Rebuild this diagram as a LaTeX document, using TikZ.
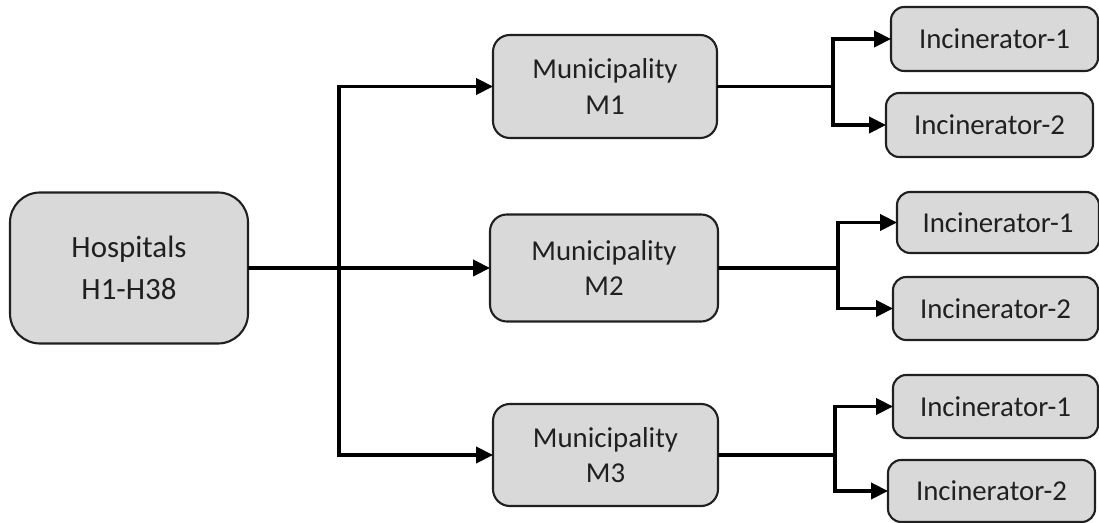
\documentclass[tikz,border=0pt]{standalone}
\usepackage{fontspec}
\setmainfont{Carlito}
\usepackage{tikz}
\usetikzlibrary{arrows.meta,positioning}
\definecolor{boxfill}{HTML}{D9D9D9}
\definecolor{boxline}{HTML}{202020}
\tikzset{
    unit/.style={draw=boxline, fill=boxfill, line width=1.5pt, align=center,
    text=boxline, inner sep=2pt, outer sep=0pt},
    source/.style={unit, rounded corners=0.75cm, font=\fontsize{22}{30}\selectfont},
    muni/.style={unit, rounded corners=0.42cm, font=\fontsize{20.5}{25}\selectfont},
    plant/.style={unit, rounded corners=0.33cm, font=\fontsize{20.5}{25}\selectfont},
    wire/.style={line width=2.5pt, black},
    link/.style={wire, -{Triangle[length=0.42cm, width=0.4cm]}},
}

\begin{document}
\begin{tikzpicture}
            \useasboundingbox (0,0) rectangle (27.475,13.075);
            % --- source ---
            \node[source, minimum width=5.95cm, minimum height=3.775cm] (hosp) at (3.225,6.375) {Hospitals\\H1-H38};
            % --- municipalities ---
            \node[muni, minimum width=5.6cm, minimum height=2.575cm] (mun1) at (15.125,10.9125) {Municipality\\M1};
            \node[muni, minimum width=5.7cm, minimum height=2.675cm] (mun2) at (15.1,6.375) {Municipality\\M2};
            \node[muni, minimum width=5.625cm, minimum height=2.55cm] (mun3) at (15.1375,1.7) {Municipality\\M3};
            % --- incinerators ---
            \node[plant, minimum width=5.175cm, minimum height=1.6cm] (inc11) at (24.8625,12.1) {Incinerator-1};
            \node[plant, minimum width=5.175cm, minimum height=1.6cm] (inc12) at (24.7375,9.95) {Incinerator-2};
            \node[plant, minimum width=5.05cm, minimum height=1.525cm] (inc21) at (24.95,7.5125) {Incinerator-1};
            \node[plant, minimum width=5.125cm, minimum height=1.575cm] (inc22) at (24.8875,5.3625) {Incinerator-2};
            \node[plant, minimum width=5.125cm, minimum height=1.575cm] (inc31) at (24.8875,2.9125) {Incinerator-1};
            \node[plant, minimum width=5.175cm, minimum height=1.55cm] (inc32) at (24.7875,0.8) {Incinerator-2};
            % --- hospitals to municipalities ---
            \coordinate (split) at (8.475,6.375);
            \draw[link] (hosp.east) -- (mun2.west);
            \draw[link] (split) |- (mun1.west);
            \draw[link] (split) |- (mun3.west);
            % --- municipalities to incinerators ---
            \draw[wire] (mun1.east) -- ++(2.9,0) coordinate (b1);
            \draw[link] (b1) |- (inc11.west);
            \draw[link] (b1) |- (inc12.west);
            \draw[wire] (mun2.east) -- ++(3.0,0) coordinate (b2);
            \draw[link] (b2) |- (inc21.west);
            \draw[link] (b2) |- (inc22.west);
            \draw[wire] (mun3.east) -- ++(2.925,0) coordinate (b3);
            \draw[link] (b3) |- (inc31.west);
            \draw[link] (b3) |- (inc32.west);
        \end{tikzpicture}
\end{document}
